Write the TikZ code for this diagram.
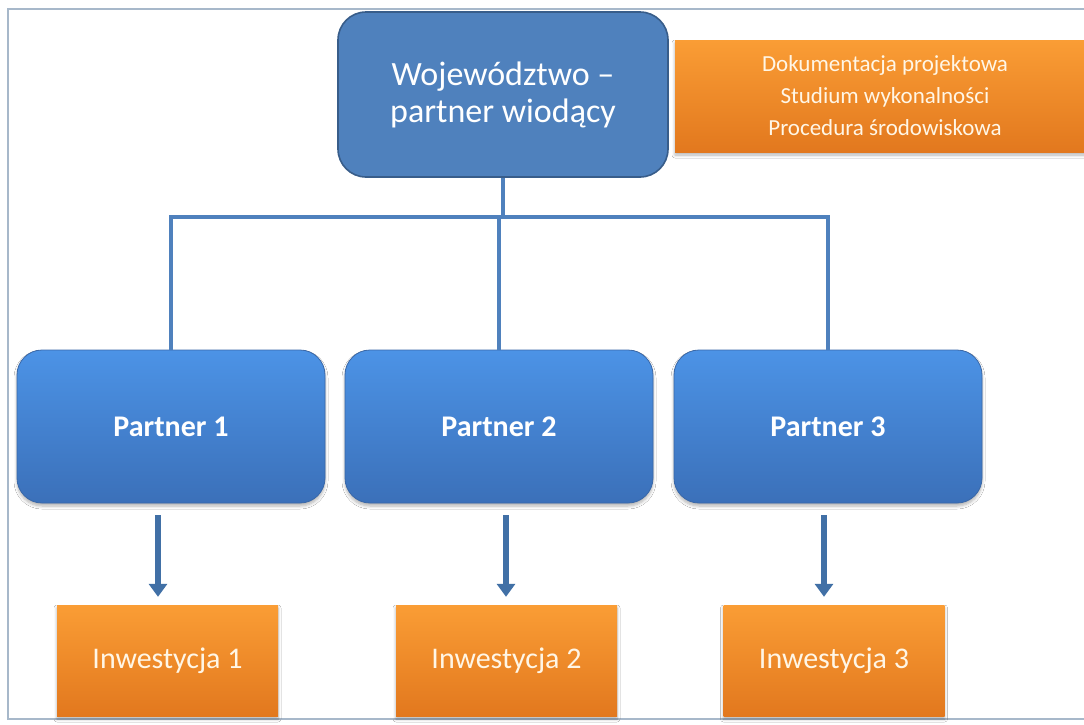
\documentclass[tikz,border=0pt]{standalone}
\usepackage{fontspec}
\setmainfont{Carlito}
\usetikzlibrary{arrows.meta,shadows.blur}
\definecolor{topblue}{HTML}{4F81BD}
\definecolor{topedge}{HTML}{385D8A}
\definecolor{ptop}{HTML}{4C93E6}
\definecolor{pbot}{HTML}{3B70B9}
\definecolor{pedge}{HTML}{3A68A8}
\definecolor{otop}{HTML}{FA9D35}
\definecolor{obot}{HTML}{E2781E}
\definecolor{conncol}{HTML}{4F81BD}
\definecolor{arrcol}{HTML}{4170A6}
\definecolor{framecol}{HTML}{A7B8CA}
\definecolor{otext}{HTML}{FFF6E6}
\tikzset{
  shad/.style={blur shadow={shadow xshift=0pt,shadow yshift=-3pt,shadow blur steps=6,shadow opacity=30,shadow blur radius=3pt}},
  topbox/.style={draw=topedge,line width=1.6pt,fill=topblue,rounded corners=28pt,minimum width=330pt,minimum height=165pt,align=center,text=white,font=\fontsize{34}{37}\selectfont,inner sep=0pt},
  pbox/.style={draw=pedge,line width=0.8pt,top color=ptop,bottom color=pbot,rounded corners=25pt,minimum width=308pt,minimum height=153pt,text=white,font=\fontsize{30}{34}\selectfont\bfseries,inner sep=0pt,shad},
  obox/.style={top color=otop,bottom color=obot,draw=none,inner sep=0pt,text=otext,align=center,shad},
  conn/.style={draw=conncol,line width=4pt},
  arr/.style={draw=arrcol,line width=6pt,-{Triangle[width=18pt,length=13pt]}}
}
\begin{document}
\begin{tikzpicture}[x=1pt,y=-1pt]
\useasboundingbox (0,0) rectangle (1084,724);
\fill[white] (0,0) rectangle (1084,724);
\draw[framecol,line width=1.2pt] (1084,9) -- (8,9) -- (8,719) -- (1084,719);
% nodes
\node[topbox] (top) at (503,94.5) {Województwo –\\partner wiodący};
\node[obox,minimum width=420pt,minimum height=112pt,font=\fontsize{23}{32}\selectfont] (doc) at (885,96) {Dokumentacja projektowa\\Studium wykonalności\\Procedura środowiskowa};
\node[pbox] (p1) at (171,426.5) {Partner 1};
\node[pbox] (p2) at (499,426.5) {Partner 2};
\node[pbox] (p3) at (828,426.5) {Partner 3};
\node[obox,minimum width=221pt,minimum height=111pt,font=\fontsize{30}{34}\selectfont] (i1) at (167.5,660.5) {Inwestycja 1};
\node[obox,minimum width=221pt,minimum height=111pt,font=\fontsize{30}{34}\selectfont] (i2) at (506.5,660.5) {Inwestycja 2};
\node[obox,minimum width=221pt,minimum height=111pt,font=\fontsize{30}{34}\selectfont] (i3) at (834,660.5) {Inwestycja 3};
% tree connectors
\coordinate (bus) at (503,217);
\draw[conn] (top.south) -- (bus);
\draw[conn] (bus) -| (p1.north);
\draw[conn] (bus) -| (p3.north);
\draw[conn] (bus) -- (bus -| p2.north) -- (p2.north);
% arrows
\draw[arr] ([shift={(-13,12)}]p1.south) -- ([shift={(-9.5,-8)}]i1.north);
\draw[arr] ([shift={(7,12)}]p2.south) -- ([shift={(-0.5,-8)}]i2.north);
\draw[arr] ([shift={(-4,12)}]p3.south) -- ([shift={(-10,-8)}]i3.north);
\end{tikzpicture}
\end{document}
